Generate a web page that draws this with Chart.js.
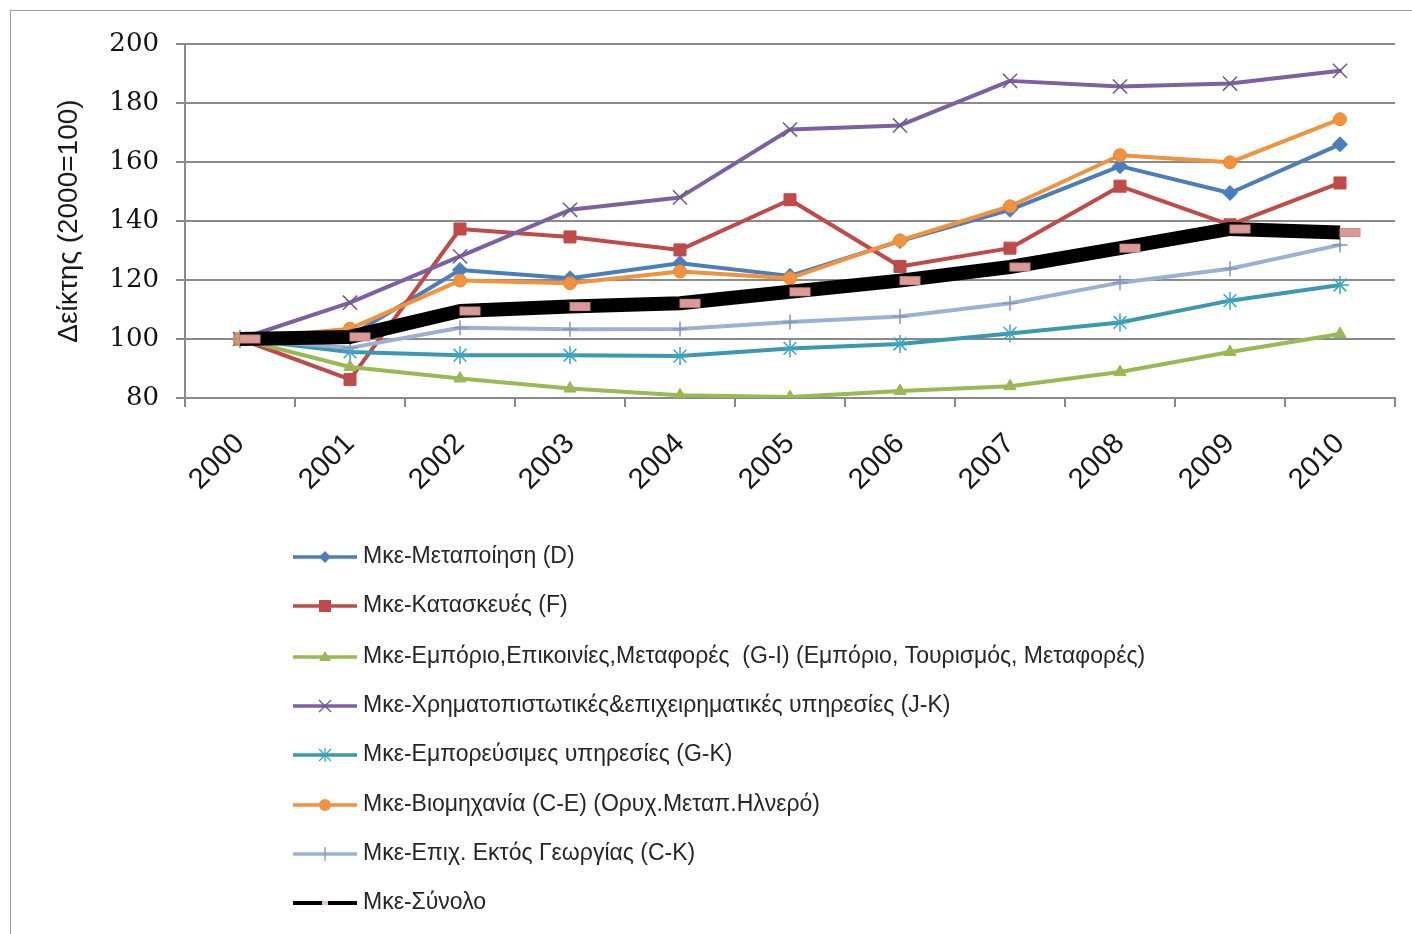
<!DOCTYPE html>
<html>
<head>
<meta charset="utf-8">
<script src="https://cdn.jsdelivr.net/npm/chart.js@4.4.1/dist/chart.umd.min.js"></script>
<style>
  html, body { margin: 0; padding: 0; background: #fff; }
  #wrap { position: relative; width: 1412px; height: 934px; }
  #frame { position: absolute; left: 10px; top: 10px; width: 1420px; height: 940px; border: 1px solid #a0a0a0; box-sizing: border-box; }
  canvas { position: absolute; left: 0; top: 0; }
</style>
</head>
<body>
<div id="wrap">
  <div id="frame"></div>
  <canvas id="c" width="1412" height="934"></canvas>
</div>
<script>
const years = ['2000','2001','2002','2003','2004','2005','2006','2007','2008','2009','2010'];
const yTicks = [80, 100, 120, 140, 160, 180, 200];
const yTitle = 'Δείκτης (2000=100)';

const labelManufacturing = 'Μκε-Μεταποίηση (D)';
const labelConstruction = 'Μκε-Κατασκευές (F)';
const labelTrade = 'Μκε-Εμπόριο,Επικοινίες,Μεταφορές  (G-I) (Εμπόριο, Τουρισμός, Μεταφορές)';
const labelFinance = 'Μκε-Χρηματοπιστωτικές&επιχειρηματικές υπηρεσίες (J-K)';
const labelMarket = 'Μκε-Εμπορεύσιμες υπηρεσίες (G-K)';
const labelIndustry = 'Μκε-Βιομηχανία (C-E) (Ορυχ.Μεταπ.Ηλνερό)';
const labelNonAgri = 'Μκε-Επιχ. Εκτός Γεωργίας (C-K)';
const labelTotal = 'Μκε-Σύνολο';

const manufacturing = [100, 101, 123.4, 120.6, 125.7, 121.4, 133.2, 143.8, 158.6, 149.5, 166];
const construction  = [100, 86.3, 137.3, 134.6, 130.2, 147.2, 124.6, 130.8, 151.8, 138.7, 152.9];
const trade         = [100, 90.5, 86.6, 83.2, 80.9, 80.3, 82.4, 84, 88.8, 95.6, 101.7];
const finance       = [100, 112.3, 128, 143.8, 148, 171, 172.4, 187.5, 185.6, 186.6, 190.9];
const market        = [100, 95.6, 94.5, 94.5, 94.2, 96.8, 98.3, 101.9, 105.6, 113, 118.3];
const industry      = [100, 103.5, 119.8, 118.9, 122.9, 120.6, 133.4, 145, 162.3, 159.9, 174.5];
const nonAgri       = [100, 97, 103.8, 103.3, 103.4, 105.8, 107.6, 112.1, 119.1, 123.8, 131.9];
const total         = [100, 100.7, 109.5, 111, 112.1, 116, 119.8, 124.4, 130.8, 137.3, 136.1];

// pink dash marker for the total series (drawn slightly to the right of the point, as in the original)
function makeDash(w, h, off) {
  const cv = document.createElement('canvas');
  cv.width = 2 * (w / 2 + Math.abs(off)) + 2;
  cv.height = h + 2;
  const g = cv.getContext('2d');
  const cx = cv.width / 2 + off;
  g.fillStyle = '#d99a98';
  g.fillRect(cx - w / 2, 1, w, h);
  g.strokeStyle = '#c98a88';
  g.lineWidth = 1;
  g.strokeRect(cx - w / 2 + 0.5, 1.5, w - 1, h - 1);
  return cv;
}
const dashMarker = makeDash(21, 9, 10);

const series = [
  {label: labelManufacturing, data: manufacturing, color: '#4a7ebb', style: 'rectRot', r: 7.5, fill: '#4a7ebb', bw: 1, lw: 4},
  {label: labelConstruction,  data: construction,  color: '#be4b48', style: 'rect',    r: 8.5, fill: '#be4b48', bw: 1, lw: 4},
  {label: labelTrade,         data: trade,         color: '#98b954', style: 'triangle',r: 7,   fill: '#98b954', bw: 1, lw: 4},
  {label: labelFinance,       data: finance,       color: '#7d60a0', style: 'crossRot',r: 10,  fill: '#7d60a0', bw: 1.5, lw: 4, pcolor: '#6d5a8a'},
  {label: labelMarket,        data: market,        color: '#3c98b0', style: 'star',    r: 9,   fill: '#3c98b0', bw: 1.5, lw: 4, pcolor: '#3aa6c2'},
  {label: labelIndustry,      data: industry,      color: '#f0923e', style: 'circle',  r: 6.5, fill: '#f0923e', bw: 1, lw: 4, pcolor: '#e98a36'},
  {label: labelNonAgri,       data: nonAgri,       color: '#9cb0d4', style: 'cross',   r: 7.5, fill: '#9cb0d4', bw: 1.5, lw: 4, pcolor: '#8095bf'},
  {label: labelTotal,         data: total,         color: '#000000', style: dashMarker,r: 6,   fill: '#d99a98', bw: 1, lw: 14}
];

const datasets = series.map((s, i) => ({
  label: s.label,
  data: s.data,
  borderColor: s.color,
  backgroundColor: s.fill,
  borderWidth: s.lw,
  pointStyle: s.style,
  pointRadius: s.r,
  pointHoverRadius: s.r,
  pointBorderColor: s.pcolor || s.color,
  pointBackgroundColor: s.fill,
  pointBorderWidth: s.bw,
  borderJoinStyle: 'round',
  borderCapStyle: i === 7 ? 'butt' : 'round',
  tension: 0,
  order: series.length - i
}));

const legendPlugin = {
  id: 'stackLegend',
  afterDraw(chart) {
    const ctx = chart.ctx;
    ctx.save();
    const x0 = 293, x1 = 357, xm = 325, tx = 363;
    const ys = [557, 606, 657, 706, 755, 805, 854, 903];
    series.forEach((s, i) => {
      const y = ys[i];
      ctx.strokeStyle = s.color;
      ctx.lineWidth = i === 7 ? 4 : 3.5;
      ctx.beginPath();
      ctx.moveTo(x0, y); ctx.lineTo(x1, y); ctx.stroke();
      ctx.fillStyle = s.fill;
      ctx.strokeStyle = s.pcolor || s.color;
      ctx.lineWidth = 1.3;
      const r = 6;
      ctx.beginPath();
      if (s.style === 'rectRot') {
        ctx.moveTo(xm, y - r); ctx.lineTo(xm + r, y); ctx.lineTo(xm, y + r); ctx.lineTo(xm - r, y); ctx.closePath(); ctx.fill();
      } else if (s.style === 'rect') {
        ctx.rect(xm - 6, y - 6, 12, 12); ctx.fill();
      } else if (s.style === 'triangle') {
        ctx.moveTo(xm, y - 6); ctx.lineTo(xm + 6, y + 4); ctx.lineTo(xm - 6, y + 4); ctx.closePath(); ctx.fill();
      } else if (s.style === 'crossRot') {
        ctx.moveTo(xm - 6, y - 6); ctx.lineTo(xm + 6, y + 6); ctx.moveTo(xm + 6, y - 6); ctx.lineTo(xm - 6, y + 6); ctx.stroke();
      } else if (s.style === 'star') {
        ctx.moveTo(xm - 6, y - 6); ctx.lineTo(xm + 6, y + 6); ctx.moveTo(xm + 6, y - 6); ctx.lineTo(xm - 6, y + 6);
        ctx.moveTo(xm, y - 7); ctx.lineTo(xm, y + 7); ctx.stroke();
      } else if (s.style === 'circle') {
        ctx.arc(xm, y, 6, 0, Math.PI * 2); ctx.fill();
      } else if (s.style === 'cross') {
        ctx.moveTo(xm, y - 7); ctx.lineTo(xm, y + 7); ctx.stroke();
      } else {
        ctx.fillStyle = '#e0c8c8';
        ctx.fillRect(xm - 3, y - 2, 6, 4);
      }
      ctx.fillStyle = '#262626';
      ctx.font = '23px "Liberation Sans", Arial, sans-serif';
      ctx.textBaseline = 'middle';
      ctx.textAlign = 'left';
      ctx.fillText(s.label, tx, y);
    });
    ctx.restore();
  }
};

new Chart(document.getElementById('c'), {
  type: 'line',
  data: { labels: years, datasets: datasets },
  plugins: [legendPlugin],
  options: {
    responsive: false,
    animation: false,
    events: [],
    layout: { padding: { left: 0, top: 44, right: 17, bottom: 428 } },
    plugins: { legend: { display: false }, tooltip: { enabled: false } },
    scales: {
      x: {
        offset: true,
        afterFit(scale) { scale.height = 108; },
        grid: { offset: true, drawOnChartArea: false, drawTicks: true, tickLength: 9, color: '#8a8a8a', lineWidth: 2 },
        border: { display: true, color: '#8a8a8a', width: 2 },
        ticks: {
          maxRotation: 45, minRotation: 45, padding: 20,
          color: '#1a1a1a',
          font: { family: '"Liberation Sans", Arial, sans-serif', size: 29 }
        }
      },
      y: {
        min: 80, max: 200,
        afterFit(scale) { scale.width = 185; },
        afterBuildTicks(scale) { scale.ticks = yTicks.map(v => ({ value: v })); },
        grid: { color: '#8a8a8a', lineWidth: 2, tickLength: 9, drawTicks: true },
        border: { display: true, color: '#8a8a8a', width: 2 },
        ticks: {
          padding: 17,
          color: '#111',
          font: { family: '"DejaVu Serif", "Liberation Serif", serif', size: 26 }
        },
        title: {
          display: true, text: yTitle, color: '#1a1a1a',
          padding: { top: 52, bottom: 0 },
          font: { family: '"Liberation Sans", Arial, sans-serif', size: 28 }
        }
      }
    }
  }
});
</script>
</body>
</html>
